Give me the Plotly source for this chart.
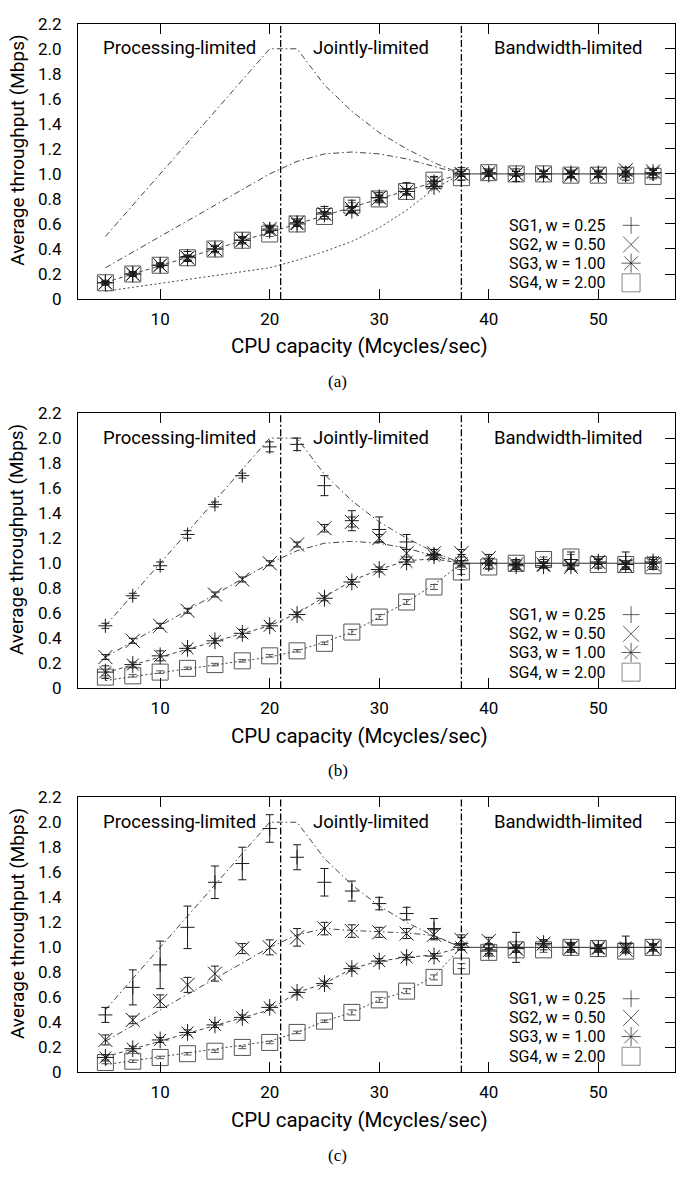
import plotly.graph_objects as go

# ---------------- data ----------------
X = [5, 7.5, 10, 12.5, 15, 17.5, 20, 22.5, 25, 27.5, 30, 32.5, 35, 37.5,
     40, 42.5, 45, 47.5, 50, 52.5, 55]
XT = [5, 7.5, 10, 12.5, 15, 17.5, 20, 22.5, 25, 27.5, 30, 32.5, 35, 37.5]
XBW = [37.5, 55]
YBW = [1.0, 1.0]
BOUNDS = [21, 37.5]
REGIONS = ["Processing-limited", "Jointly-limited", "Bandwidth-limited"]
SERIES = ["SG1, w = 0.25", "SG2, w = 0.50", "SG3, w = 1.00", "SG4, w = 2.00"]
XTICKS = [10, 20, 30, 40, 50]
YTICKS = [0, 0.2, 0.4, 0.6, 0.8, 1.0, 1.2, 1.4, 1.6, 1.8, 2.0, 2.2]
YTICKTEXT = ["0", "0.2", "0.4", "0.6", "0.8", "1.0", "1.2", "1.4", "1.6", "1.8", "2.0", "2.2"]
CAPTIONS = ["(a)", "(b)", "(c)"]
XTITLE = "CPU capacity (Mcycles/sec)"
YTITLE = "Average throughput (Mbps)"

# panel (a)
A_SG1 = [0.13, 0.20, 0.27, 0.34, 0.40, 0.47, 0.56, 0.61, 0.69, 0.74, 0.81, 0.88, 0.94, 1.00, 1.01, 0.99, 1.00, 1.00, 1.00, 0.99, 1.00]
A_SG1_E = [0.02, 0.02, 0.02, 0.04, 0.03, 0.03, 0.03, 0.03, 0.05, 0.05, 0.04, 0.05, 0.04, 0.05, 0.03, 0.05, 0.03, 0.03, 0.03, 0.04, 0.03]
A_SG2 = [0.13, 0.20, 0.27, 0.33, 0.40, 0.47, 0.56, 0.61, 0.68, 0.72, 0.81, 0.86, 0.93, 1.00, 1.01, 1.00, 1.00, 0.99, 1.00, 1.03, 1.02]
A_SG2_E = [0.01, 0.01, 0.01, 0.02, 0.02, 0.02, 0.02, 0.02, 0.02, 0.02, 0.02, 0.02, 0.02, 0.02, 0.02, 0.02, 0.02, 0.02, 0.02, 0.02, 0.02]
A_SG3 = [0.13, 0.20, 0.27, 0.33, 0.40, 0.47, 0.55, 0.60, 0.68, 0.71, 0.81, 0.86, 0.90, 1.00, 1.00, 1.00, 1.00, 1.00, 1.00, 1.00, 1.01]
A_SG3_E = [0.01, 0.01, 0.01, 0.02, 0.02, 0.02, 0.02, 0.02, 0.02, 0.02, 0.02, 0.02, 0.02, 0.02, 0.02, 0.02, 0.02, 0.02, 0.02, 0.02, 0.02]
A_SG4 = [0.13, 0.20, 0.27, 0.33, 0.40, 0.47, 0.52, 0.60, 0.66, 0.75, 0.80, 0.86, 0.95, 0.97, 1.01, 1.00, 1.00, 0.99, 0.99, 0.99, 0.98]
A_SG4_E = [0.01, 0.01, 0.01, 0.02, 0.02, 0.02, 0.02, 0.02, 0.02, 0.02, 0.02, 0.02, 0.02, 0.02, 0.02, 0.02, 0.02, 0.02, 0.02, 0.02, 0.02]
A_T1 = [0.5, 0.75, 1.0, 1.25, 1.5, 1.75, 2.0, 2.0, 1.71, 1.5, 1.33, 1.2, 1.09, 1.0]
A_T2 = [0.25, 0.375, 0.5, 0.625, 0.75, 0.875, 1.0, 1.10, 1.16, 1.175, 1.16, 1.12, 1.06, 1.0]
A_T3 = [0.133, 0.2, 0.267, 0.333, 0.4, 0.467, 0.533, 0.6, 0.667, 0.733, 0.8, 0.867, 0.933, 1.0]
A_T4 = [0.0625, 0.094, 0.125, 0.156, 0.1875, 0.219, 0.25, 0.31, 0.38, 0.46, 0.57, 0.71, 0.88, 1.0]

# panel (b)
B_SG1 = [0.50, 0.74, 0.98, 1.23, 1.47, 1.70, 1.93, 1.95, 1.62, 1.34, 1.27, 1.17, 1.07, 1.02, 1.00, 0.99, 1.00, 1.03, 1.00, 1.02, 1.00]
B_SG1_E = [0.02, 0.02, 0.03, 0.03, 0.02, 0.02, 0.04, 0.05, 0.08, 0.08, 0.10, 0.06, 0.04, 0.05, 0.04, 0.04, 0.03, 0.06, 0.04, 0.07, 0.05]
B_SG2 = [0.25, 0.38, 0.50, 0.62, 0.75, 0.87, 1.00, 1.15, 1.28, 1.33, 1.20, 1.08, 1.08, 1.08, 1.04, 0.99, 0.99, 0.97, 1.01, 0.98, 0.99]
B_SG2_E = [0.02, 0.02, 0.02, 0.02, 0.02, 0.02, 0.02, 0.02, 0.03, 0.04, 0.03, 0.03, 0.03, 0.03, 0.03, 0.02, 0.02, 0.02, 0.02, 0.02, 0.02]
B_SG3 = [0.13, 0.19, 0.26, 0.32, 0.38, 0.44, 0.50, 0.59, 0.72, 0.85, 0.95, 1.01, 1.06, 1.00, 1.00, 0.98, 0.98, 0.98, 1.01, 0.99, 1.01]
B_SG3_E = [0.05, 0.02, 0.04, 0.02, 0.02, 0.03, 0.02, 0.02, 0.02, 0.02, 0.02, 0.02, 0.02, 0.02, 0.02, 0.02, 0.02, 0.02, 0.02, 0.02, 0.02]
B_SG4 = [0.09, 0.10, 0.13, 0.16, 0.19, 0.22, 0.26, 0.30, 0.36, 0.45, 0.57, 0.69, 0.81, 0.93, 0.97, 1.00, 1.03, 1.05, 0.99, 0.99, 0.98]
B_SG4_E = [0.01, 0.01, 0.01, 0.01, 0.01, 0.01, 0.01, 0.01, 0.01, 0.02, 0.02, 0.02, 0.02, 0.02, 0.02, 0.02, 0.02, 0.02, 0.02, 0.02, 0.02]
B_T1 = [0.5, 0.75, 1.0, 1.25, 1.5, 1.75, 2.0, 2.0, 1.71, 1.5, 1.33, 1.2, 1.09, 1.0]
B_T2 = [0.25, 0.375, 0.5, 0.625, 0.75, 0.875, 1.0, 1.10, 1.16, 1.175, 1.16, 1.12, 1.06, 1.0]
B_T3 = [0.125, 0.1875, 0.25, 0.3125, 0.375, 0.4375, 0.5, 0.60, 0.73, 0.86, 0.95, 1.02, 1.035, 1.0]
B_T4 = [0.0625, 0.094, 0.125, 0.156, 0.1875, 0.219, 0.25, 0.30, 0.37, 0.45, 0.57, 0.69, 0.83, 1.0]

# panel (c)
C_SG1 = [0.46, 0.68, 0.86, 1.16, 1.52, 1.67, 1.95, 1.72, 1.52, 1.45, 1.35, 1.27, 1.15, 1.03, 0.98, 1.00, 1.02, 1.00, 0.99, 1.03, 1.00]
C_SG1_E = [0.06, 0.14, 0.19, 0.17, 0.13, 0.13, 0.11, 0.10, 0.11, 0.08, 0.05, 0.05, 0.08, 0.05, 0.05, 0.12, 0.04, 0.04, 0.03, 0.06, 0.03]
C_SG2 = [0.26, 0.42, 0.57, 0.70, 0.79, 0.99, 1.00, 1.08, 1.15, 1.13, 1.12, 1.11, 1.10, 1.06, 1.05, 0.99, 1.03, 1.00, 1.00, 0.98, 1.00]
C_SG2_E = [0.04, 0.03, 0.05, 0.06, 0.06, 0.04, 0.06, 0.07, 0.05, 0.05, 0.04, 0.04, 0.04, 0.04, 0.03, 0.03, 0.03, 0.03, 0.02, 0.02, 0.02]
C_SG3 = [0.12, 0.19, 0.26, 0.32, 0.38, 0.44, 0.52, 0.64, 0.71, 0.83, 0.89, 0.92, 0.93, 1.00, 0.97, 0.99, 1.03, 1.00, 0.99, 1.00, 1.00]
C_SG3_E = [0.02, 0.02, 0.02, 0.02, 0.02, 0.02, 0.02, 0.02, 0.02, 0.02, 0.02, 0.02, 0.02, 0.02, 0.02, 0.02, 0.02, 0.02, 0.02, 0.02, 0.02]
C_SG4 = [0.08, 0.09, 0.12, 0.15, 0.17, 0.20, 0.24, 0.32, 0.41, 0.48, 0.58, 0.65, 0.76, 0.85, 0.96, 0.98, 0.98, 1.00, 0.99, 0.97, 1.00]
C_SG4_E = [0.01, 0.01, 0.01, 0.01, 0.01, 0.01, 0.01, 0.01, 0.01, 0.02, 0.02, 0.02, 0.02, 0.02, 0.02, 0.02, 0.02, 0.02, 0.02, 0.02, 0.02]
C_T1 = [0.5, 0.75, 1.0, 1.25, 1.5, 1.75, 2.0, 2.0, 1.71, 1.5, 1.33, 1.2, 1.09, 1.0]
C_T2 = [0.25, 0.375, 0.5, 0.625, 0.75, 0.875, 1.0, 1.10, 1.15, 1.135, 1.125, 1.115, 1.095, 1.0]
C_T3 = [0.125, 0.1875, 0.25, 0.3125, 0.375, 0.4375, 0.5, 0.64, 0.71, 0.83, 0.89, 0.92, 0.94, 1.0]
C_T4 = [0.0625, 0.094, 0.125, 0.156, 0.1875, 0.219, 0.25, 0.32, 0.41, 0.48, 0.58, 0.65, 0.77, 1.0]

PANELS = [
    ([A_SG1, A_SG2, A_SG3, A_SG4], [A_SG1_E, A_SG2_E, A_SG3_E, A_SG4_E], [A_T1, A_T2, A_T3, A_T4]),
    ([B_SG1, B_SG2, B_SG3, B_SG4], [B_SG1_E, B_SG2_E, B_SG3_E, B_SG4_E], [B_T1, B_T2, B_T3, B_T4]),
    ([C_SG1, C_SG2, C_SG3, C_SG4], [C_SG1_E, C_SG2_E, C_SG3_E, C_SG4_E], [C_T1, C_T2, C_T3, C_T4]),
]

# ---------------- style / layout ----------------
W, H = 676, 1186
PLOT_L = 78
PANEL_TOPS = [14, 410, 800.7]
PANEL_H = 280
XR = [2.5, 57.0]
YR = [0, 2.2]
FONT = "Roboto"
SYMBOLS = ["cross-thin-open", "x-thin-open", "asterisk-open", "square-open"]
SIZES = [10, 14, 14, 16]
COLORS = ["#1a1a1a", "#1a1a1a", "#1a1a1a", "#555555"]
TDASH = ["6px,3px,1.5px,3px", "6px,3px,1.5px,3px", "4px,3px", "2px,2.5px"]
LEG_ROWS = [75, 55.5, 36.5, 16.5]   # px above panel bottom
LEG_TEXT_R = 608
LEG_MARK_X = 632


def px2x(px):
    return XR[0] + (px - PLOT_L) / (W - PLOT_L) * (XR[1] - XR[0])


def off2y(off):
    return YR[0] + off / PANEL_H * (YR[1] - YR[0])


def paper_x(px):
    return (px - PLOT_L) / (W - PLOT_L)


def paper_y(py):
    return 1 - py / H


fig = go.Figure()
layout = dict(width=W, height=H, autosize=False,
              margin=dict(l=PLOT_L, r=0, t=0, b=0, pad=0),
              paper_bgcolor="white", plot_bgcolor="white",
              showlegend=False, font=dict(family=FONT, size=17, color="black"))
annotations = []
shapes = []

for p, (vals, errs, theo) in enumerate(PANELS):
    sx = "" if p == 0 else str(p + 1)
    xa, ya = "x" + sx, "y" + sx
    yo = "y" + str(p + 4)
    top = PANEL_TOPS[p]
    bottom = top + PANEL_H
    dom = [paper_y(bottom), paper_y(top)]

    for k in range(4):
        fig.add_trace(go.Scatter(x=XT, y=theo[k], mode="lines", xaxis=xa, yaxis=ya,
                                 line=dict(color="#444444", width=1, dash=TDASH[k]),
                                 hoverinfo="skip"))
    fig.add_trace(go.Scatter(x=XBW, y=YBW, mode="lines", xaxis=xa, yaxis=ya,
                             line=dict(color="#333333", width=1), hoverinfo="skip"))
    for k in [3, 2, 1, 0]:
        fig.add_trace(go.Scatter(
            x=X, y=vals[k], mode="markers", xaxis=xa, yaxis=ya, name=SERIES[k],
            marker=dict(symbol=SYMBOLS[k], size=SIZES[k], color=COLORS[k],
                        line=dict(width=1, color=COLORS[k])),
            error_y=dict(type="data", array=errs[k], thickness=1, width=4,
                         color=COLORS[k])))

    # legend markers (on overlay axis)
    fig.add_trace(go.Scatter(
        x=[px2x(LEG_MARK_X)] * 4, y=[off2y(o) for o in LEG_ROWS], mode="markers",
        xaxis=xa, yaxis=yo, hoverinfo="skip",
        marker=dict(symbol=SYMBOLS, size=[s + 2 for s in SIZES], color=COLORS,
                    line=dict(width=1, color=COLORS))))
    for k in range(4):
        annotations.append(dict(xref="paper", yref="paper", x=paper_x(LEG_TEXT_R),
                                y=paper_y(bottom - LEG_ROWS[k]), xanchor="right",
                                yanchor="middle", text=SERIES[k], showarrow=False,
                                font=dict(family=FONT, size=16)))

    axis_x = dict(domain=[0, 1], range=XR, anchor=ya, tickvals=XTICKS,
                  ticks="inside", ticklen=10, tickwidth=1, tickcolor="black",
                  showline=True, linecolor="black", linewidth=1.2, mirror="ticks",
                  showgrid=False, zeroline=False, ticklabelstandoff=4,
                  tickfont=dict(family=FONT, size=17))
    axis_y = dict(domain=dom, range=YR, anchor=xa, tickvals=YTICKS, ticktext=YTICKTEXT,
                  ticks="", showline=True, linecolor="black", linewidth=1.2, mirror=True,
                  showgrid=False, zeroline=False, ticklabelstandoff=12,
                  tickfont=dict(family=FONT, size=17))
    axis_o = dict(overlaying=ya, side="right", anchor=xa, range=YR, tickvals=YTICKS,
                  ticks="inside", ticklen=10, tickwidth=1, tickcolor="black",
                  showticklabels=False, showline=False, showgrid=False, zeroline=False)
    layout["xaxis" + sx] = axis_x
    layout["yaxis" + sx] = axis_y
    layout["yaxis" + str(p + 4)] = axis_o

    for b in BOUNDS:
        shapes.append(dict(type="line", xref=xa, yref=ya + " domain", x0=b, x1=b, y0=0, y1=1,
                           line=dict(color="black", width=1.3, dash="7px,2.5px,2px,2.5px")))

    edges = [XR[0]] + BOUNDS + [XR[1]]
    for r, name in enumerate(REGIONS):
        annotations.append(dict(xref=xa, yref=ya, x=(edges[r] + edges[r + 1]) / 2,
                                y=YR[1] - off2y(25), text=name, showarrow=False,
                                xanchor="center", yanchor="middle",
                                font=dict(family=FONT, size=18.5)))

    annotations.append(dict(xref="paper", yref="paper", x=paper_x(17),
                            y=paper_y(top + PANEL_H / 2 - 11), text=YTITLE,
                            textangle=-90, showarrow=False, xanchor="center",
                            yanchor="middle", font=dict(family=FONT, size=19)))
    annotations.append(dict(xref="paper", yref="paper", x=paper_x(360),
                            y=paper_y(bottom + 48), text=XTITLE, showarrow=False,
                            xanchor="center", yanchor="middle",
                            font=dict(family=FONT, size=20.5)))
    annotations.append(dict(xref="paper", yref="paper", x=paper_x(338),
                            y=paper_y(bottom + 84), text=CAPTIONS[p], showarrow=False,
                            xanchor="center", yanchor="middle",
                            font=dict(family="Liberation Serif", size=17)))

layout["annotations"] = annotations
layout["shapes"] = shapes
fig.update_layout(**layout)
fig.write_html("out.html",
               post_script="document.body.style.margin='0px';"
                           "document.documentElement.style.overflow='hidden';")
